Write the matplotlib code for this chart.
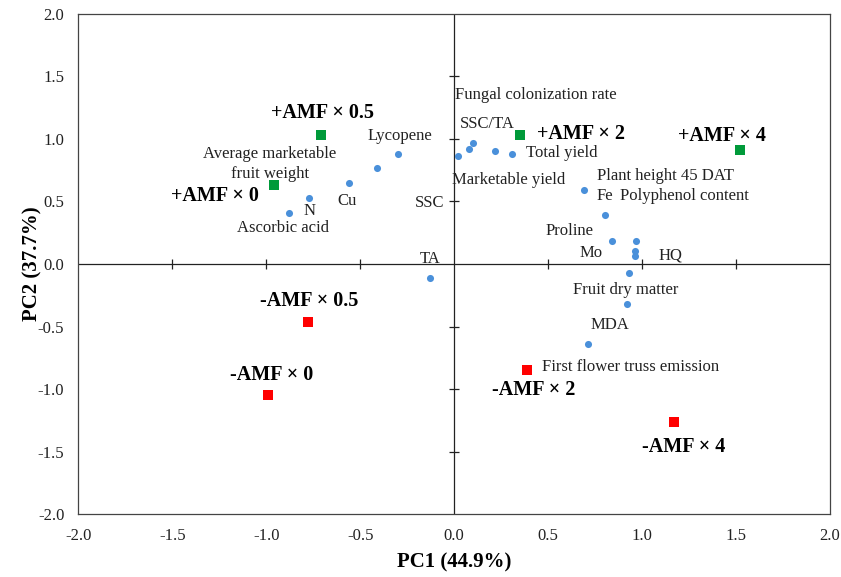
#!/usr/bin/env python3

import numpy as np
import matplotlib
matplotlib.use('Agg')
import matplotlib.pyplot as plt

plt.rcParams['font.family'] = ['Liberation Serif', 'DejaVu Serif']

# Treatment scores (PC1, PC2)
plus_names = ['+AMF × 0', '+AMF × 0.5', '+AMF × 2', '+AMF × 4']
plus_pc1 = [-0.96, -0.71, 0.35, 1.52]
plus_pc2 = [0.63, 1.03, 1.03, 0.91]

minus_names = ['-AMF × 0', '-AMF × 0.5', '-AMF × 2', '-AMF × 4']
minus_pc1 = [-0.99, -0.78, 0.39, 1.17]
minus_pc2 = [-1.05, -0.46, -0.85, -1.26]

# Variable loadings (PC1, PC2)
var_pc1 = [-0.30, -0.41, -0.56, -0.77, -0.88, -0.13, 0.02, 0.08, 0.10, 0.22,
           0.31, 0.69, 0.80, 0.84, 0.97, 0.96, 0.96, 0.93, 0.92, 0.71]
var_pc2 = [0.88, 0.77, 0.65, 0.53, 0.41, -0.11, 0.86, 0.92, 0.97, 0.90,
           0.88, 0.59, 0.39, 0.18, 0.18, 0.10, 0.06, -0.07, -0.32, -0.64]

# Variable labels with their text anchors (x, y, ha)
var_labels = [
    ('Fungal colonization rate', 0.005, 1.35, 'left'),
    ('SSC/TA', 0.03, 1.12, 'left'),
    ('Total yield', 0.38, 0.89, 'left'),
    ('Marketable yield', -0.01, 0.67, 'left'),
    ('SSC', -0.05, 0.49, 'right'),
    ('Plant height 45 DAT', 0.76, 0.70, 'left'),
    ('Fe', 0.76, 0.54, 'left'),
    ('Polyphenol content', 0.88, 0.54, 'left'),
    ('Proline', 0.485, 0.26, 'left'),
    ('Mo', 0.665, 0.09, 'left'),
    ('HQ', 1.085, 0.07, 'left'),
    ('Fruit dry matter', 0.63, -0.21, 'left'),
    ('MDA', 0.83, -0.49, 'center'),
    ('First flower truss emission', 0.47, -0.82, 'left'),
    ('TA', -0.13, 0.04, 'center'),
    ('Lycopene', -0.29, 1.02, 'center'),
    ('Average marketable\nfruit weight', -0.98, 0.80, 'center'),
    ('Cu', -0.57, 0.50, 'center'),
    ('N', -0.77, 0.425, 'center'),
    ('Ascorbic acid', -0.91, 0.29, 'center'),
]

# Treatment label anchors (centre x, centre y)
plus_lab_x = [-1.27, -0.70, 0.675, 1.425]
plus_lab_y = [0.54, 1.21, 1.04, 1.02]
minus_lab_x = [-0.97, -0.77, 0.425, 1.22]
minus_lab_y = [-0.89, -0.30, -1.01, -1.46]

fig = plt.figure(figsize=(8.41, 5.77), dpi=100)
ax = fig.add_axes([0.093, 0.109, 0.894, 0.867])

ax.set_xlim(-2, 2)
ax.set_ylim(-2, 2)
ticks = np.arange(-2, 2.01, 0.5)
ax.set_xticks(ticks)
ax.set_yticks(ticks)
ax.set_xticklabels(['{:.1f}'.format(t) for t in ticks])
ax.set_yticklabels(['{:.1f}'.format(t) for t in ticks])
ax.tick_params(length=0, labelsize=12, pad=10, colors='#222222')
for s in ax.spines.values():
    s.set_color('#444444')
    s.set_linewidth(0.9)

# axes through origin with crossing tick marks
ax.axhline(0, color='#222222', lw=0.9, zorder=1)
ax.axvline(0, color='#222222', lw=0.9, zorder=1)
inner = ticks[(ticks != 0) & (np.abs(ticks) < 2)]
ax.plot(inner, np.zeros_like(inner), ls='none', marker='|', ms=7, mew=0.9, color='#222222')
ax.plot(np.zeros_like(inner), inner, ls='none', marker='_', ms=7, mew=0.9, color='#222222')

ax.scatter(var_pc1, var_pc2, s=26, color='#4A90DA', zorder=3, linewidths=0)
ax.scatter(plus_pc1, plus_pc2, s=55, marker='s', color='#009A3A', zorder=3, linewidths=0)
ax.scatter(minus_pc1, minus_pc2, s=55, marker='s', color='#FF0000', zorder=3, linewidths=0)

for txt, x, y, ha in var_labels:
    ax.text(x, y, txt, ha=ha, va='center', fontsize=12, color='#222222',
            linespacing=1.3)

for name, x, y in zip(plus_names, plus_lab_x, plus_lab_y):
    ax.text(x, y, name, ha='center', va='center', fontsize=14.5, fontweight='bold')
for name, x, y in zip(minus_names, minus_lab_x, minus_lab_y):
    ax.text(x, y, name, ha='center', va='center', fontsize=14.5, fontweight='bold')

ax.set_xlabel('PC1 (44.9%)', fontsize=15, fontweight='bold', labelpad=6)
ax.set_ylabel('PC2 (37.7%)', fontsize=15, fontweight='bold')
ax.yaxis.set_label_coords(-0.048, 0.5)

fig.savefig('out.png', dpi=100)
